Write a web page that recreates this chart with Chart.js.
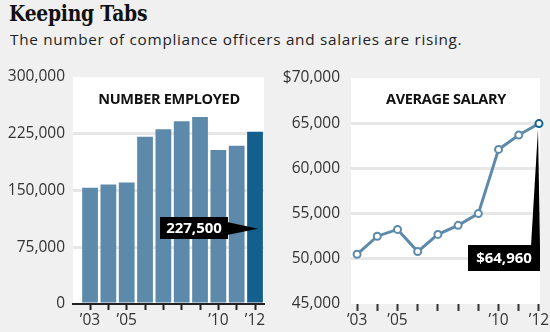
<!DOCTYPE html>
<html><head><meta charset="utf-8">
<script src="https://cdn.jsdelivr.net/npm/chart.js@4/dist/chart.umd.min.js"></script>
<style>
html,body{margin:0;padding:0}
body{background:#f0f0f0;width:550px;height:332px;overflow:hidden;position:relative;font-family:'Open Sans',sans-serif;color:#222}
#title{position:absolute;left:9px;top:-1px;font:bold 23px 'DejaVu Serif',serif;color:#111;white-space:nowrap;letter-spacing:-0.3px;transform:scaleX(0.815);transform-origin:0 0}
#sub{position:absolute;left:10px;top:29px;font:15.3px 'Open Sans',sans-serif;color:#222;white-space:nowrap;letter-spacing:0.7px}
.ct{position:absolute;font:bold 14.5px 'Open Sans',sans-serif;color:#111;white-space:nowrap;transform:translateX(-50%);top:89px;letter-spacing:-0.3px}
canvas{position:absolute;top:0}
#c1{left:0}
#c2{left:275px}
</style></head><body>
<div id="title">Keeping Tabs</div>
<div id="sub">The number of compliance officers and salaries are rising.</div>
<canvas id="c1" width="275" height="332"></canvas>
<canvas id="c2" width="275" height="332"></canvas>
<div class="ct" style="left:169px">NUMBER EMPLOYED</div>
<div class="ct" style="left:446px">AVERAGE SALARY</div>
<script>
// ---- data ----
const years = [2003, 2004, 2005, 2006, 2007, 2008, 2009, 2010, 2011, 2012];
const labeledYears = [2003, 2005, 2010, 2012];
const employed = [153700, 158000, 160500, 221000, 231000, 241500, 247000, 203500, 209000, 227500];
const salary = [50500, 52500, 53250, 50800, 52700, 53700, 55000, 62100, 63700, 64960];
const employedTicks = [0, 75000, 150000, 225000, 300000];
const salaryTicks = [45000, 50000, 55000, 60000, 65000, 70000];
const employedCallout = '227,500';
const salaryCallout = '$64,960';

const barColor = '#5d8aab';
const barLast = '#13608f';
const fmt = v => v.toLocaleString('en-US');
const yearLabel = v => labeledYears.includes(v) ? '\u2019' + String(v).slice(2) : '';

const whiteBox = {
  id: 'whiteBox',
  beforeDraw(chart) {
    const {ctx, chartArea: a} = chart;
    ctx.save(); ctx.fillStyle = '#fff';
    ctx.fillRect(a.left, a.top, a.right - a.left, a.bottom - a.top);
    ctx.restore();
  }
};

function gridColor(min, max) {
  return c => (c.tick.value === min || c.tick.value === max) ? 'rgba(0,0,0,0)' : '#e7e7e7';
}

// ---- left chart ----
const calloutBar = {
  id: 'calloutBar',
  afterDatasetsDraw(chart) {
    const {ctx} = chart;
    const xs = chart.scales.x, ys = chart.scales.y;
    const tipX = xs.getPixelForValue(years[years.length - 1]) + 3;
    const tipY = ys.getPixelForValue(employed[employed.length - 1]) + 97;
    const bx = 160, by = 217, bw = 68, bh = 22;
    ctx.save();
    ctx.fillStyle = '#000';
    ctx.fillRect(bx, by, bw, bh);
    ctx.beginPath();
    ctx.moveTo(bx + bw - 1, by + 5);
    ctx.lineTo(tipX, tipY);
    ctx.lineTo(bx + bw - 1, by + 18);
    ctx.closePath(); ctx.fill();
    ctx.fillStyle = '#fff';
    ctx.font = "bold 15px 'Open Sans'";
    ctx.textAlign = 'center'; ctx.textBaseline = 'middle';
    ctx.fillText(employedCallout, bx + bw / 2, by + bh / 2 + 1);
    ctx.restore();
  }
};

new Chart(document.getElementById('c1'), {
  type: 'bar',
  data: {
    datasets: [{
      data: years.map((y, i) => ({x: y, y: employed[i]})),
      backgroundColor: years.map((y, i) => i === years.length - 1 ? barLast : barColor),
      borderWidth: 0,
      barPercentage: 0.86,
      categoryPercentage: 1
    }]
  },
  options: {
    responsive: false,
    animation: false,
    layout: {padding: {top: 77, right: 11, left: 0, bottom: 0}},
    plugins: {legend: {display: false}, tooltip: {enabled: false}},
    scales: {
      x: {
        type: 'linear', min: 2002.07, max: 2012.49, offset: false,
        afterBuildTicks: s => { s.ticks = years.map(v => ({value: v})); },
        afterFit: s => { s.height = 28; },
        grid: {offset: false, drawOnChartArea: false, drawTicks: true, tickLength: 6, tickColor: '#222', tickWidth: 2},
        border: {display: true, color: '#222', width: 2},
        ticks: {autoSkip: false, maxRotation: 0, padding: 1, color: '#333', font: {family: 'Open Sans', size: 15.5}, callback: yearLabel}
      },
      y: {
        min: 0, max: 300000,
        afterBuildTicks: s => { s.ticks = employedTicks.map(v => ({value: v})); },
        afterFit: s => { s.width = 73; },
        grid: {color: gridColor(0, 300000), lineWidth: 3, drawTicks: false},
        border: {display: false},
        ticks: {padding: 8, color: '#333', font: {family: 'Open Sans', size: 15.5}, callback: v => fmt(v)}
      }
    }
  },
  plugins: [whiteBox, calloutBar]
});

// ---- right chart ----
const calloutLine = {
  id: 'calloutLine',
  afterDatasetsDraw(chart) {
    const {ctx} = chart;
    const xs = chart.scales.x, ys = chart.scales.y;
    const tipX = xs.getPixelForValue(years[years.length - 1]) - 1;
    const tipY = ys.getPixelForValue(salary[salary.length - 1]) + 6;
    const bx = 193, by = 245, bw = 72, bh = 26;
    ctx.save();
    ctx.fillStyle = '#000';
    ctx.fillRect(bx, by, bw, bh);
    ctx.beginPath();
    ctx.moveTo(bx + bw - 9, by + 1);
    ctx.lineTo(tipX, tipY);
    ctx.lineTo(bx + bw, by + 1);
    ctx.closePath(); ctx.fill();
    ctx.fillStyle = '#fff';
    ctx.font = "bold 15px 'Open Sans'";
    ctx.textAlign = 'center'; ctx.textBaseline = 'middle';
    ctx.fillText(salaryCallout, bx + bw / 2, by + bh / 2 + 1);
    ctx.restore();
  }
};

new Chart(document.getElementById('c2'), {
  type: 'line',
  data: {
    datasets: [{
      data: years.map((y, i) => ({x: y, y: salary[i]})),
      borderColor: barColor,
      borderWidth: 3,
      pointRadius: 3.5,
      pointBorderWidth: 2,
      pointBackgroundColor: '#fff',
      pointBorderColor: years.map((y, i) => i === years.length - 1 ? barLast : barColor),
      clip: false,
      tension: 0
    }]
  },
  options: {
    responsive: false,
    animation: false,
    layout: {padding: {top: 78, right: 10, left: 0, bottom: 0}},
    plugins: {legend: {display: false}, tooltip: {enabled: false}},
    scales: {
      x: {
        type: 'linear', min: 2002.7, max: 2012.05,
        afterBuildTicks: s => { s.ticks = years.map(v => ({value: v})); },
        afterFit: s => { s.height = 28; },
        grid: {drawOnChartArea: false, drawTicks: true, tickLength: 7, tickColor: '#333', tickWidth: 2},
        border: {display: false},
        ticks: {autoSkip: false, maxRotation: 0, padding: 0, color: '#333', font: {family: 'Open Sans', size: 15.5}, callback: yearLabel}
      },
      y: {
        min: 45000, max: 70000,
        afterBuildTicks: s => { s.ticks = salaryTicks.map(v => ({value: v})); },
        afterFit: s => { s.width = 76; },
        grid: {color: gridColor(45000, 70000), lineWidth: 3, drawTicks: false},
        border: {display: false},
        ticks: {padding: 11, color: '#333', font: {family: 'Open Sans', size: 15.5}, callback: v => (v === 70000 ? '$' : '') + fmt(v)}
      }
    }
  },
  plugins: [whiteBox, calloutLine]
});
</script>
</body></html>
